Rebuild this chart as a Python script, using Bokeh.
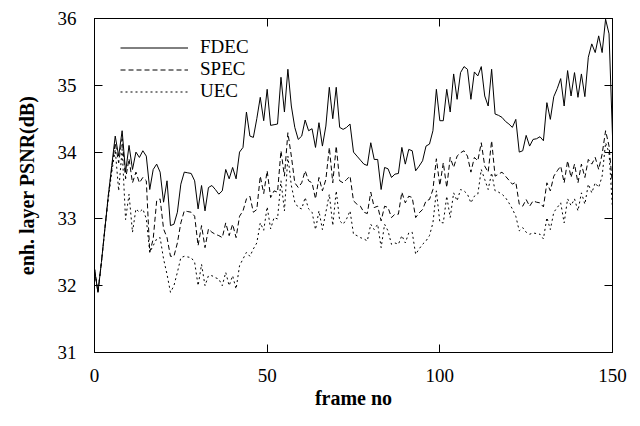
from bokeh.plotting import figure
from bokeh.models import LinearAxis, Range1d, FixedTicker, Legend, LegendItem, CustomJSTickFormatter
from bokeh.embed import file_html
from bokeh.resources import INLINE

frames = list(range(0, 151))

fdec = [32.25, 31.9, 32.35, 32.85, 33.35, 33.8, 34.24, 33.94, 34.32, 33.7,
        34.1, 33.74, 34.0, 33.92, 34.02, 33.94, 33.44, 33.74, 33.82, 33.7,
        33.25, 33.57, 32.9, 32.92, 33.1, 33.52, 33.7, 33.69, 33.68, 33.57,
        33.15, 33.5, 33.12, 33.47, 33.5, 33.44, 33.37, 33.42, 33.74, 33.6,
        33.77, 33.6, 34.0, 34.07, 34.6, 34.24, 34.22, 34.5, 34.82, 34.47,
        34.94, 34.4, 34.41, 34.42, 35.12, 34.6, 35.24, 34.69, 34.37, 34.19,
        34.24, 34.48, 34.32, 34.35, 34.07, 34.44, 34.09, 34.39, 34.97, 34.5,
        34.97, 34.37, 34.34, 34.37, 34.42, 34.0, 33.94, 33.88, 33.82, 33.8,
        34.14, 33.89, 33.89, 33.44, 33.77, 33.75, 33.62, 33.67, 33.68, 34.07,
        33.82, 34.04, 34.02, 33.72, 33.79, 33.87, 34.09, 34.12, 34.32, 34.94,
        34.47, 34.47, 34.94, 34.6, 35.17, 34.79, 35.19, 35.28, 35.24, 34.79,
        35.2, 35.14, 35.28, 34.84, 34.69, 35.24, 34.57, 34.55, 34.52, 34.46,
        34.42, 34.37, 34.49, 34.0, 34.02, 34.25, 34.09, 34.19, 34.2, 34.23,
        34.17, 34.74, 34.49, 34.83, 34.95, 35.1, 34.69, 35.22, 34.84, 35.19,
        34.82, 35.17, 34.83, 35.42, 35.62, 35.49, 35.74, 35.49, 35.99, 35.77,
        34.24]

spec = [32.25, 31.9, 32.35, 32.85, 33.35, 33.75, 34.14, 33.84, 34.2, 33.6,
        33.9, 33.54, 33.7, 33.54, 33.62, 33.57, 32.5, 32.7, 33.27, 33.3,
        32.85, 32.72, 32.44, 32.44, 32.64, 32.94, 33.12, 33.11, 33.1, 33.04,
        32.6, 32.9, 32.57, 32.85, 32.8, 32.77, 32.75, 32.72, 32.94, 32.75,
        32.92, 32.72, 33.04, 33.12, 33.3, 33.34, 33.1, 33.14, 33.64, 33.38,
        33.72, 33.32, 33.42, 33.4, 34.02, 33.64, 34.29, 33.94, 33.54, 33.47,
        33.54, 33.72, 33.57, 33.54, 33.3, 33.62, 33.42, 33.59, 34.07, 33.54,
        34.09, 33.57, 33.54, 33.59, 33.64, 33.27, 33.22, 33.19, 33.1, 33.08,
        33.4, 33.17, 33.19, 32.97, 33.19, 33.17, 33.02, 33.07, 33.07, 33.4,
        33.24, 33.34, 33.32, 33.02, 33.09, 33.14, 33.27, 33.29, 33.44, 33.9,
        33.5, 33.84, 33.47, 33.92, 33.77, 33.94, 33.99, 34.02, 33.94, 33.7,
        33.92, 33.87, 34.14, 33.79, 33.7, 34.17, 33.64, 33.67, 33.7, 33.64,
        33.58, 33.52, 33.55, 33.22, 33.19, 33.29, 33.19, 33.27, 33.25, 33.24,
        33.18, 33.54, 33.42, 33.64, 33.72, 33.79, 33.54, 33.87, 33.62, 33.82,
        33.54, 33.82, 33.62, 33.89, 33.82, 33.92, 33.74, 33.97, 34.32, 34.09,
        33.5]

uec = [32.25, 31.9, 32.35, 32.85, 33.3, 33.7, 34.04, 33.42, 34.04, 32.99,
       33.37, 32.8, 33.15, 33.1, 33.15, 33.0, 32.5, 32.6, 32.7, 32.72,
       32.4, 32.17, 31.9, 32.0, 32.2, 32.42, 32.44, 32.43, 32.42, 32.35,
       32.0, 32.32, 32.0, 32.15, 32.15, 32.12, 32.1, 32.0, 32.2, 32.0,
       32.15, 31.95, 32.3, 32.4, 32.5, 32.44, 32.55, 32.64, 32.94, 32.83,
       33.18, 32.85, 33.02, 33.0, 33.57, 33.12, 33.94, 33.5, 33.25, 33.17,
       33.15, 33.32, 33.15, 33.1, 32.84, 33.12, 32.84, 33.1, 33.37, 32.9,
       33.42, 32.97, 32.92, 33.0, 33.12, 32.77, 32.75, 32.72, 32.7, 32.67,
       32.92, 32.84, 32.92, 32.57, 32.92, 32.82, 32.62, 32.64, 32.62, 32.75,
       32.64, 32.79, 32.8, 32.47, 32.55, 32.62, 32.67, 32.75, 32.94, 33.42,
       32.95, 32.94, 33.34, 33.02, 33.39, 33.27, 33.44, 33.42, 33.37, 33.24,
       33.34, 33.37, 33.74, 33.59, 33.44, 33.69, 33.42, 33.4, 33.37, 33.32,
       33.24, 33.15, 33.04, 32.82, 32.87, 32.8, 32.77, 32.79, 32.78, 32.77,
       32.7, 33.02, 32.84, 33.1, 33.17, 33.24, 32.94, 33.3, 33.2, 33.3,
       33.12, 33.39, 33.22, 33.52, 33.39, 33.54, 33.47, 33.64, 34.14, 33.99,
       33.15]

series_names = ["FDEC", "SPEC", "UEC"]
x_ticks = [0, 50, 100, 150]
y_ticks = [31, 32, 33, 34, 35, 36]

FONT = "Liberation Serif"

p = figure(width=632, height=418, output_backend="svg", toolbar_location=None,
           x_range=Range1d(0, 150), y_range=Range1d(31, 36),
           min_border_left=94, min_border_right=20, min_border_top=18, min_border_bottom=66)
p.xgrid.visible = False
p.ygrid.visible = False
p.outline_line_color = "black"
p.outline_line_width = 1

r1 = p.line(frames, fdec, line_color="black", line_width=1)
r2 = p.line(frames, spec, line_color="black", line_width=1, line_dash="5 3")
r3 = p.line(frames, uec, line_color="black", line_width=1, line_dash="2 3")

def style_axis(ax, ticks):
    ax.ticker = FixedTicker(ticks=ticks)
    ax.minor_tick_line_color = None
    ax.major_tick_in = 8
    ax.major_tick_out = 0
    ax.axis_line_color = "black"
    ax.major_tick_line_color = "black"
    ax.major_label_text_font = FONT
    ax.major_label_text_font_size = "19px"
    ax.major_label_text_color = "black"

style_axis(p.xaxis[0], x_ticks)
style_axis(p.yaxis[0], y_ticks)
p.xaxis[0].major_label_standoff = 16
p.yaxis[0].major_label_standoff = 18
p.xaxis[0].axis_label = "frame no"
p.yaxis[0].axis_label = "enh. layer PSNR(dB)"
for ax in (p.xaxis[0], p.yaxis[0]):
    ax.axis_label_text_font = FONT
    ax.axis_label_text_font_size = "20px"
    ax.axis_label_text_font_style = "bold"
    ax.axis_label_text_color = "black"
p.xaxis[0].axis_label_standoff = 2
p.yaxis[0].axis_label_standoff = 17

blank = CustomJSTickFormatter(code="return '';")
top = LinearAxis(formatter=blank)
style_axis(top, x_ticks)
top.major_label_text_font_size = "0px"
right = LinearAxis(formatter=blank)
style_axis(right, y_ticks)
right.major_label_text_font_size = "0px"
p.add_layout(top, "above")
p.add_layout(right, "right")

legend = Legend(items=[LegendItem(label=series_names[0], renderers=[r1]),
                       LegendItem(label=series_names[1], renderers=[r2]),
                       LegendItem(label=series_names[2], renderers=[r3])],
                location=(26, 250))
legend.border_line_color = None
legend.background_fill_alpha = 0
legend.padding = 0
legend.spacing = 0
legend.margin = 0
legend.glyph_width = 68
legend.glyph_height = 21
legend.label_height = 21
legend.label_standoff = 12
legend.label_text_font = FONT
legend.label_text_font_size = "19px"
legend.label_text_color = "black"
p.add_layout(legend, "center")

html = file_html(p, INLINE)
open("out.html", "w").write(html)
